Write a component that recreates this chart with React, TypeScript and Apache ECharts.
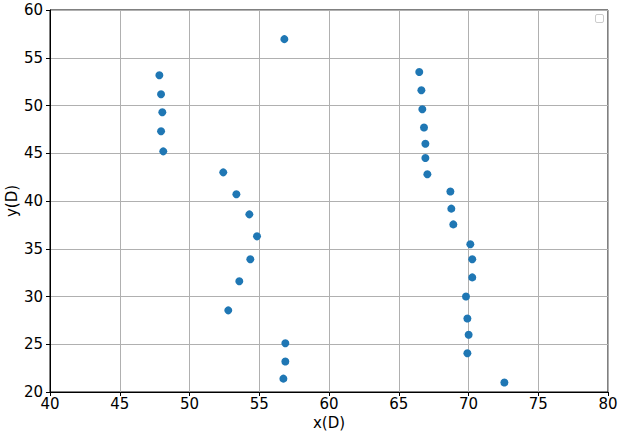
import React, { useEffect, useRef } from "react";
import * as echarts from "echarts";

const xValues: number[] = [
  47.84, 47.96, 48.05, 47.96, 48.12, 56.8,
  52.42, 53.36, 54.29, 54.84, 54.36, 53.57, 52.78, 56.87, 56.87, 56.73,
  66.47, 66.62, 66.69, 66.81, 66.91, 66.91, 67.05, 68.7, 68.77, 68.91,
  70.13, 70.27, 70.27, 69.82, 69.92, 70.01, 69.92, 72.57,
];
const yValues: number[] = [
  53.16, 51.17, 49.29, 47.3, 45.2, 56.95,
  43.0, 40.7, 38.6, 36.3, 33.9, 31.6, 28.55, 25.1, 23.2, 21.4,
  53.5, 51.6, 49.6, 47.7, 46.0, 44.5, 42.8, 41.0, 39.2, 37.55,
  35.47, 33.9, 32.0, 30.0, 27.7, 26.0, 24.05, 21.0,
];
const xTicks = { min: 40, max: 80, interval: 5 };
const yTicks = { min: 20, max: 60, interval: 5 };
const xLabel = "x(D)";
const yLabel = "y(D)";

export default function App() {
  const ref = useRef<HTMLDivElement>(null);
  useEffect(() => {
    if (!ref.current) return;
    const chart = echarts.init(ref.current, null, { renderer: "svg" });
    const font = "DejaVu Sans";
    const data = xValues.map((x, i) => [x, yValues[i]]);
    chart.setOption({
      animation: false,
      backgroundColor: "#ffffff",
      grid: {
        left: 50,
        top: 10,
        right: 16,
        bottom: 47,
        outerBoundsMode: "none",
        containLabel: false,
        show: true,
        borderColor: "#000000",
        borderWidth: 1,
        backgroundColor: "transparent",
      },
      xAxis: {
        type: "value",
        min: xTicks.min,
        max: xTicks.max,
        interval: xTicks.interval,
        name: xLabel,
        nameLocation: "middle",
        nameGap: 23,
        nameMoveOverlap: false,
        nameTextStyle: { fontFamily: font, fontSize: 15, lineHeight: 15, color: "#000" },
        axisLine: { show: true, lineStyle: { color: "#000", width: 1 } },
        axisTick: { show: true, length: 4, lineStyle: { color: "#000" } },
        axisLabel: { fontFamily: font, fontSize: 15, lineHeight: 12, color: "#000", margin: 6 },
        splitLine: { show: true, lineStyle: { color: "#b0b0b0", width: 1 } },
      },
      yAxis: {
        type: "value",
        min: yTicks.min,
        max: yTicks.max,
        interval: yTicks.interval,
        name: yLabel,
        nameLocation: "middle",
        nameGap: 31,
        nameMoveOverlap: false,
        nameTextStyle: { fontFamily: font, fontSize: 15, color: "#000" },
        axisLine: { show: true, lineStyle: { color: "#000", width: 1 } },
        axisTick: { show: true, length: 4, lineStyle: { color: "#000" } },
        axisLabel: { fontFamily: font, fontSize: 15, color: "#000", margin: 7 },
        splitLine: { show: true, lineStyle: { color: "#b0b0b0", width: 1 } },
      },
      graphic: [
        {
          type: "rect",
          left: 595,
          top: 14,
          shape: { width: 8, height: 8, r: 1.5 },
          style: { fill: "#ffffff", stroke: "#cccccc", lineWidth: 1 },
        },
      ],
      series: [
        {
          type: "scatter",
          data,
          symbol: "circle",
          symbolSize: 8,
          itemStyle: { color: "#1f77b4", opacity: 1 },
        },
      ],
    });
    return () => chart.dispose();
  }, []);
  return (
    <div
      ref={ref}
      style={{ position: "fixed", left: 0, top: 0, width: 624, height: 439 }}
    />
  );
}
